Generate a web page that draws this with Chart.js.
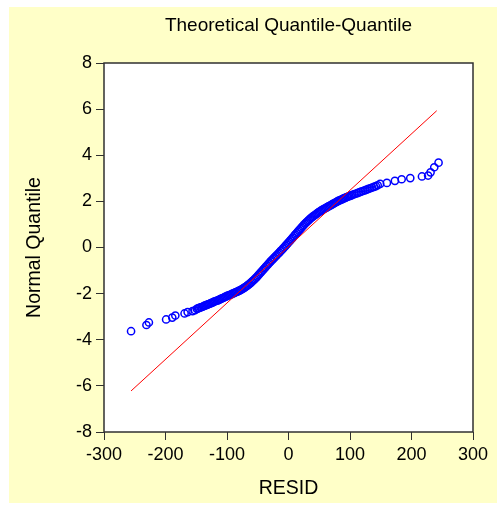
<!DOCTYPE html>
<html>
<head>
<meta charset="utf-8">
<script src="https://cdn.jsdelivr.net/npm/chart.js@4/dist/chart.umd.min.js"></script>
<style>
  html, body { margin: 0; padding: 0; background: #ffffff; }
  canvas { display: block; }
</style>
</head>
<body>
<canvas id="qqChart" width="498" height="505"></canvas>
<script>
// sorted residuals (x) against theoretical normal quantiles (y)
const resid = [
  -256, -231, -227, -199, -189, -184, -169, -164, -156, -152,
  -149, -147, -145, -143, -141, -139, -137, -135, -133, -131,
  -129, -127, -125, -123, -121, -119, -117, -115, -113, -111,
  -109, -107, -105, -103, -101, -99, -97, -95, -93, -91,
  -89, -87, -85, -83, -81, -79, -77, -75, -73, -71,
  -69, -67, -65, -63, -61, -59, -57, -55, -53, -51,
  -49, -47, -45, -43, -41, -39, -37, -35, -33, -31,
  -29, -27, -25, -23, -21, -19, -17, -15, -13, -11,
  -9, -7, -5, -3, -1, 1, 3, 5, 7, 9,
  11, 13, 15, 17, 19, 21, 23, 25, 27, 29,
  31, 33, 35, 37, 39, 41, 43, 45, 47, 49,
  51, 53, 55, 57, 59, 61, 63, 65, 67, 69,
  71, 73, 75, 77, 79, 81, 83, 85, 87, 89,
  91, 93, 95, 97, 99, 101, 103, 106, 109, 112,
  115, 118, 121, 124, 127, 130, 133, 136, 139, 142,
  145, 149, 160, 173, 184, 198, 217, 227, 231, 237,
  244
];
const normalQuantile = [
  -3.63, -3.36, -3.25, -3.12, -3.04, -2.95, -2.86, -2.80, -2.76, -2.72,
  -2.66, -2.64, -2.62, -2.60, -2.58, -2.56, -2.53, -2.51, -2.49, -2.47,
  -2.45, -2.42, -2.40, -2.38, -2.35, -2.33, -2.31, -2.29, -2.27, -2.24,
  -2.22, -2.19, -2.17, -2.14, -2.12, -2.09, -2.07, -2.05, -2.03, -2.00,
  -1.98, -1.96, -1.93, -1.91, -1.88, -1.86, -1.83, -1.80, -1.76, -1.73,
  -1.69, -1.65, -1.61, -1.57, -1.52, -1.47, -1.42, -1.37, -1.32, -1.26,
  -1.20, -1.14, -1.08, -1.02, -0.96, -0.90, -0.84, -0.78, -0.72, -0.66,
  -0.60, -0.55, -0.49, -0.44, -0.38, -0.33, -0.27, -0.22, -0.16, -0.11,
  -0.05, 0.01, 0.07, 0.13, 0.19, 0.25, 0.31, 0.37, 0.43, 0.50,
  0.56, 0.62, 0.68, 0.74, 0.80, 0.86, 0.92, 0.98, 1.04, 1.09,
  1.14, 1.19, 1.24, 1.29, 1.33, 1.37, 1.41, 1.45, 1.49, 1.53,
  1.56, 1.60, 1.63, 1.66, 1.69, 1.72, 1.75, 1.78, 1.81, 1.84,
  1.87, 1.90, 1.93, 1.96, 1.99, 2.02, 2.04, 2.07, 2.09, 2.12,
  2.14, 2.16, 2.19, 2.21, 2.23, 2.25, 2.27, 2.30, 2.33, 2.36,
  2.39, 2.42, 2.45, 2.48, 2.51, 2.54, 2.57, 2.60, 2.63, 2.66,
  2.70, 2.76, 2.80, 2.89, 2.96, 3.01, 3.08, 3.12, 3.26, 3.48,
  3.68
];

// reference line ends
const fitResid = [-256, 241];
const fitQuant = [-6.22, 5.93];

const xTicks = [-300, -200, -100, 0, 100, 200, 300];
const yTicks = [-8, -6, -4, -2, 0, 2, 4, 6, 8];

const FONT = "'Liberation Sans', Arial, sans-serif";
const AXIS_COLOR = '#303030';

// yellow panel + white plot area + box border
const framePlugin = {
    id: 'frame',
    beforeDraw(chart) {
        const ctx = chart.ctx;
        const a = chart.chartArea;
        ctx.save();
        ctx.fillStyle = '#ffffc8';
        ctx.fillRect(9, 7, 488, 496);
        ctx.fillStyle = '#ffffff';
        ctx.fillRect(a.left, a.top, a.right - a.left, a.bottom - a.top);
        ctx.restore();
    },
    afterDraw(chart) {
        const ctx = chart.ctx;
        const a = chart.chartArea;
        ctx.save();
        ctx.strokeStyle = AXIS_COLOR;
        ctx.lineWidth = 1.5;
        ctx.strokeRect(a.left, a.top, a.right - a.left, a.bottom - a.top);
        ctx.restore();
    }
};

const points = resid.map((r, i) => ({ x: r, y: normalQuantile[i] }));
const fitLine = fitResid.map((r, i) => ({ x: r, y: fitQuant[i] }));

new Chart(document.getElementById('qqChart').getContext('2d'), {
    type: 'scatter',
    data: {
        datasets: [
            {
                label: 'Normal line',
                data: fitLine,
                showLine: true,
                borderColor: '#ff0000',
                borderWidth: 1,
                pointRadius: 0,
                fill: false
            },
            {
                label: 'RESID',
                data: points,
                pointStyle: 'circle',
                pointRadius: 3.6,
                pointBorderWidth: 1.5,
                borderColor: '#0000ff',
                backgroundColor: 'rgba(0,0,0,0)'
            }
        ]
    },
    options: {
        responsive: false,
        animation: false,
        devicePixelRatio: 1,
        layout: { padding: { left: 0, right: 25, top: 0, bottom: 0 } },
        plugins: {
            legend: { display: false },
            tooltip: { enabled: false },
            title: {
                display: true,
                text: 'Theoretical Quantile-Quantile',
                fullSize: false,
                color: '#000000',
                font: { family: FONT, size: 19, weight: 'normal' },
                padding: { top: 14.3, bottom: 25.9 }
            }
        },
        scales: {
            x: {
                type: 'linear',
                min: -300,
                max: 300,
                afterBuildTicks(scale) { scale.ticks = xTicks.map(v => ({ value: v })); },
                afterFit(scale) {
                    scale.height = 73;
                    scale.paddingLeft = 0;
                    scale.paddingRight = 0;
                },
                grid: { drawOnChartArea: false, drawTicks: true, tickLength: 8, color: AXIS_COLOR, lineWidth: 1 },
                border: { display: false },
                ticks: { color: '#000000', padding: 4, maxRotation: 0, font: { family: FONT, size: 18 } },
                title: {
                    display: true,
                    text: 'RESID',
                    color: '#000000',
                    font: { family: FONT, size: 19.5 },
                    padding: { top: 0, bottom: 4.3 }
                }
            },
            y: {
                type: 'linear',
                min: -8,
                max: 8,
                afterBuildTicks(scale) { scale.ticks = yTicks.map(v => ({ value: v })); },
                afterFit(scale) {
                    scale.width = 104;
                    scale.paddingTop = 0;
                    scale.paddingBottom = 0;
                },
                grid: { drawOnChartArea: false, drawTicks: true, tickLength: 8, color: AXIS_COLOR, lineWidth: 1 },
                border: { display: false },
                ticks: { color: '#000000', padding: 4, font: { family: FONT, size: 18 } },
                title: {
                    display: true,
                    text: 'Normal Quantile',
                    color: '#000000',
                    font: { family: FONT, size: 19.5 },
                    padding: { top: 22.5, bottom: 0 }
                }
            }
        }
    },
    plugins: [framePlugin]
});
</script>
</body>
</html>
